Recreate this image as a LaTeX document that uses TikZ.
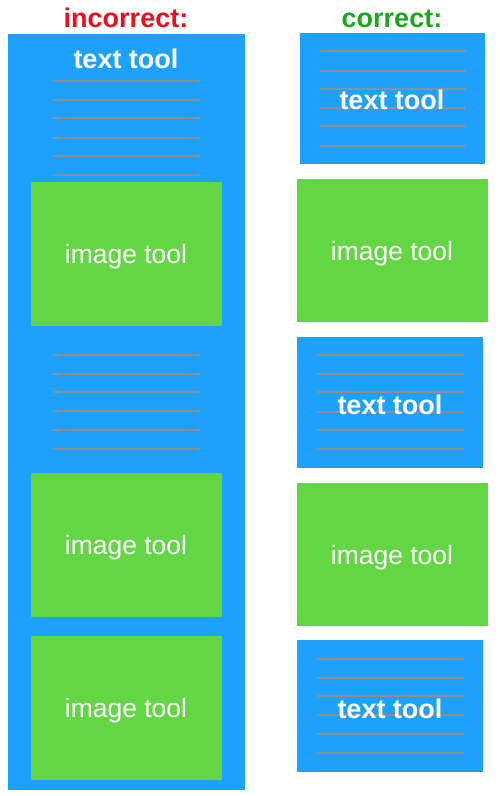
\documentclass[tikz,border=0pt]{standalone}
\usepackage{fontspec}
\setmainfont{Liberation Sans}
\definecolor{toolblue}{HTML}{1DA1FC}
\definecolor{toolgreen}{HTML}{63D644}
\definecolor{linegray}{HTML}{8E8E93}
\definecolor{titlered}{HTML}{E8101A}
\definecolor{titlegreen}{HTML}{1CA81C}
\tikzset{
  blk/.style={inner sep=0pt, outer sep=0pt, anchor=north west},
  bluebox/.style={blk, fill=toolblue},
  greenbox/.style={blk, fill=toolgreen},
  txtline/.style={draw=linegray, line width=2.6pt},
  lbl/.style={text=white, anchor=base, inner sep=0pt, font=\fontsize{26.5}{26.5}\selectfont},
  boldlbl/.style={lbl, font=\fontsize{27}{27}\selectfont\bfseries},
  title/.style={anchor=base, inner sep=0pt, font=\fontsize{27}{27}\selectfont\bfseries}
}
\begin{document}
\begin{tikzpicture}[x=1pt,y=-1pt]
\useasboundingbox (0,0) rectangle (500,796);
% titles
\node[title, text=titlered] (tinc) at (126,27) {incorrect:};
\node[title, text=titlegreen] (tcor) at (392,27) {correct:};
% left column
\node[bluebox, minimum width=237pt, minimum height=756pt] (lblue) at (8,34) {};
\foreach \y in {81,100,118,138,156,175} \draw[txtline] (53,\y) -- (200,\y);
\node[boldlbl] (ltext) at (126,68) {text tool};
\node[greenbox, minimum width=191pt, minimum height=144pt] (lg1) at (31,182) {};
\node[lbl] (lg1t) at (126,263) {image tool};
\foreach \y in {355,374,392,411,430,449} \draw[txtline] (53,\y) -- (200,\y);
\node[greenbox, minimum width=191pt, minimum height=144pt] (lg2) at (31,473) {};
\node[lbl] (lg2t) at (126,554) {image tool};
\node[greenbox, minimum width=191pt, minimum height=144pt] (lg3) at (31,636) {};
\node[lbl] (lg3t) at (126,717) {image tool};
% right column
\node[bluebox, minimum width=185pt, minimum height=131pt] (rb1) at (300,33) {};
\foreach \y in {51,71,89,108,126,146} \draw[txtline] (319,\y) -- (466,\y);
\node[boldlbl] (rb1t) at (392,109) {text tool};
\node[greenbox, minimum width=191pt, minimum height=143pt] (rg1) at (297,179) {};
\node[lbl] (rg1t) at (392,260) {image tool};
\node[bluebox, minimum width=186pt, minimum height=131pt] (rb2) at (297,337) {};
\foreach \y in {355,374,392,412,430,449} \draw[txtline] (317,\y) -- (464,\y);
\node[boldlbl] (rb2t) at (390,414) {text tool};
\node[greenbox, minimum width=191pt, minimum height=143pt] (rg2) at (297,483) {};
\node[lbl] (rg2t) at (392,564) {image tool};
\node[bluebox, minimum width=186pt, minimum height=132pt] (rb3) at (297,640) {};
\foreach \y in {659,678,696,715,734,753} \draw[txtline] (317,\y) -- (464,\y);
\node[boldlbl] (rb3t) at (390,718) {text tool};
\end{tikzpicture}
\end{document}
